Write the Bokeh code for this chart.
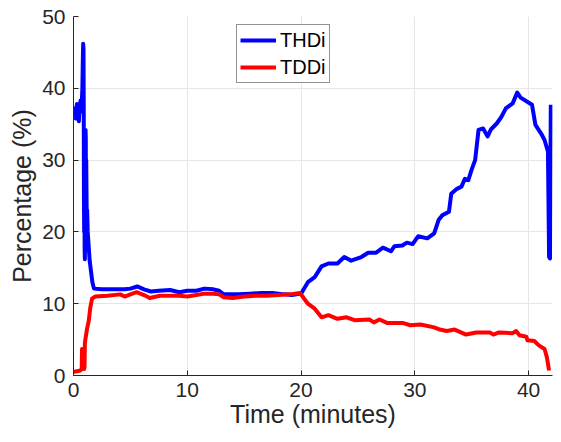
from bokeh.plotting import figure
from bokeh.models import FixedTicker, Range1d, Legend, LegendItem
from bokeh.embed import file_html
from bokeh.resources import INLINE

# ---- data ----
thd_t = [0.0, 0.1, 0.2, 0.3, 0.4, 0.47, 0.55, 0.62, 0.68, 0.74, 0.78, 0.82, 0.85, 0.88,
         0.9, 0.92, 0.94, 0.96, 0.98, 1.0, 1.02, 1.04, 1.06, 1.08, 1.1, 1.12, 1.14, 1.17,
         1.2, 1.25, 1.32, 1.42, 1.54, 1.66, 1.8, 2.5, 3.5, 4.5, 5.0, 5.6, 6.2, 6.8, 7.5,
         8.5, 9.3, 10.0, 10.8, 11.5, 12.3, 12.8, 13.2, 14.5, 15.5, 16.5, 17.5, 18.5, 19.2,
         20.0, 20.6, 21.2, 21.8, 22.4, 23.2, 23.8, 24.4, 25.3, 25.9, 26.6, 27.2, 27.9,
         28.2, 28.9, 29.3, 29.8, 30.3, 31.1, 31.7, 32.1, 32.4, 33.0, 33.2, 33.7, 34.1,
         34.4, 34.7, 35.0, 35.3, 35.6, 36.0, 36.4, 36.7, 37.2, 37.6, 38.0, 38.6, 39.0,
         39.3, 40.3, 40.6, 41.1, 41.4, 41.7, 41.8, 41.88, 41.95]
thd_v = [36.0, 37.2, 35.8, 37.8, 36.3, 35.4, 37.5, 38.3, 36.8, 38.5, 40.0, 44.0, 46.2, 45.5,
         37.0, 24.0, 20.0, 26.0, 17.5, 16.2, 22.0, 28.0, 34.2, 33.0, 22.0, 30.0, 26.0, 21.0,
         23.0, 20.0, 18.3, 16.0, 14.5, 13.0, 12.1, 12.0, 12.0, 12.0, 12.1, 12.4, 12.0, 11.7,
         11.8, 11.9, 11.6, 11.8, 11.8, 12.1, 12.0, 11.8, 11.3, 11.3, 11.4, 11.5, 11.5, 11.3,
         11.2, 11.4, 13.0, 13.7, 15.2, 15.6, 15.6, 16.5, 16.0, 16.5, 17.1, 17.1, 17.8, 17.3,
         18.0, 18.1, 18.5, 18.3, 19.4, 19.1, 19.8, 21.7, 22.3, 22.8, 25.3, 26.0, 26.3,
         27.4, 27.2, 28.7, 30.0, 34.2, 34.4, 33.3, 34.3, 35.1, 36.0, 37.2, 37.9, 39.4,
         38.7, 37.7, 34.9, 33.7, 32.8, 31.2, 16.5, 16.3, 37.7]

tdd_t = [0.0, 0.3, 0.6, 0.72, 0.75, 0.85, 0.9, 0.93, 0.97, 1.0, 1.05, 1.19, 1.34, 1.48,
         1.63, 1.92, 3.0, 4.1, 4.5, 5.0, 5.55, 6.2, 6.7, 7.6, 8.5, 9.3, 10.0, 10.8, 11.5,
         12.3, 12.8, 13.2, 14.0, 15.0, 16.0, 17.0, 18.0, 19.0, 19.9, 20.6, 21.2, 21.8,
         22.4, 23.2, 24.0, 24.7, 26.0, 26.4, 26.9, 27.6, 29.0, 29.6, 30.5, 31.7, 32.2,
         32.8, 33.5, 34.5, 35.4, 36.6, 36.9, 37.4, 38.6, 38.9, 39.2, 39.8, 39.9, 40.5,
         40.9, 41.4, 41.6, 41.8]
tdd_v = [0.5, 0.6, 0.7, 0.9, 3.7, 3.6, 3.5, 0.9, 1.2, 4.5, 5.1, 6.5, 7.6, 9.5,
         10.7, 11.0, 11.1, 11.3, 11.0, 11.3, 11.6, 11.2, 10.8, 11.1, 11.1, 11.1, 11.0, 11.2, 11.4,
         11.4, 11.3, 10.9, 10.8, 11.0, 11.1, 11.1, 11.2, 11.3, 11.5, 10.0, 9.3, 8.1,
         8.4, 7.9, 8.1, 7.7, 7.8, 7.4, 7.8, 7.3, 7.3, 7.0, 7.1, 6.7, 6.4,
         6.2, 6.4, 5.7, 6.0, 6.0, 5.7, 6.0, 5.9, 6.2, 5.6, 5.4, 4.9, 4.8,
         4.2, 3.7, 2.6, 0.7]

x_ticks = [0, 10, 20, 30, 40]
y_ticks = [0, 10, 20, 30, 40, 50]
series_names = ["THDi", "TDDi"]
x_label = "Time (minutes)"
y_label = "Percentage (%)"

FONT = "Liberation Sans"
TXT = "#262626"

p = figure(width=553, height=434, output_backend="svg", toolbar_location=None,
           x_range=Range1d(0, 42.1), y_range=Range1d(0, 50),
           min_border_left=73, min_border_right=1, min_border_top=16, min_border_bottom=59)
p.outline_line_color = None
p.background_fill_color = "white"
p.border_fill_color = "white"

r1 = p.line(thd_t, thd_v, line_color="#0000FF", line_width=4, line_join="round")
r2 = p.line(tdd_t, tdd_v, line_color="#FF0000", line_width=4, line_join="round")

for ax, ticks in ((p.xaxis[0], x_ticks), (p.yaxis[0], y_ticks)):
    ax.ticker = FixedTicker(ticks=ticks)
    ax.minor_tick_line_color = None
    ax.major_tick_in = 5
    ax.major_tick_out = 0
    ax.axis_line_color = TXT
    ax.major_tick_line_color = TXT
    ax.major_label_text_font = FONT
    ax.major_label_text_font_size = "21px"
    ax.major_label_text_color = TXT
    ax.axis_label_text_font = FONT
    ax.axis_label_text_font_size = "25px"
    ax.axis_label_text_font_style = "normal"
    ax.axis_label_text_color = TXT

p.xaxis.axis_label = x_label
p.yaxis.axis_label = y_label
p.xaxis.major_label_standoff = 7
p.xaxis.axis_label_standoff = 0
p.yaxis.major_label_standoff = 8
p.yaxis.axis_label_standoff = 3

p.xgrid.ticker = FixedTicker(ticks=x_ticks)
p.ygrid.ticker = FixedTicker(ticks=y_ticks)
p.grid.grid_line_color = "#e6e6e6"
p.grid.grid_line_width = 1

legend = Legend(items=[LegendItem(label=series_names[0], renderers=[r1]),
                       LegendItem(label=series_names[1], renderers=[r2])],
                location=(163, 292))
legend.label_text_font = FONT
legend.label_text_font_size = "20px"
legend.label_text_color = "black"
legend.glyph_width = 36
legend.glyph_height = 24
legend.label_height = 24
legend.label_standoff = 4
legend.spacing = 3
legend.padding = 3
legend.margin = 0
legend.border_line_color = TXT
legend.border_line_width = 1
legend.background_fill_alpha = 1.0
p.add_layout(legend, "center")

open("out.html", "w").write(file_html(p, INLINE))
